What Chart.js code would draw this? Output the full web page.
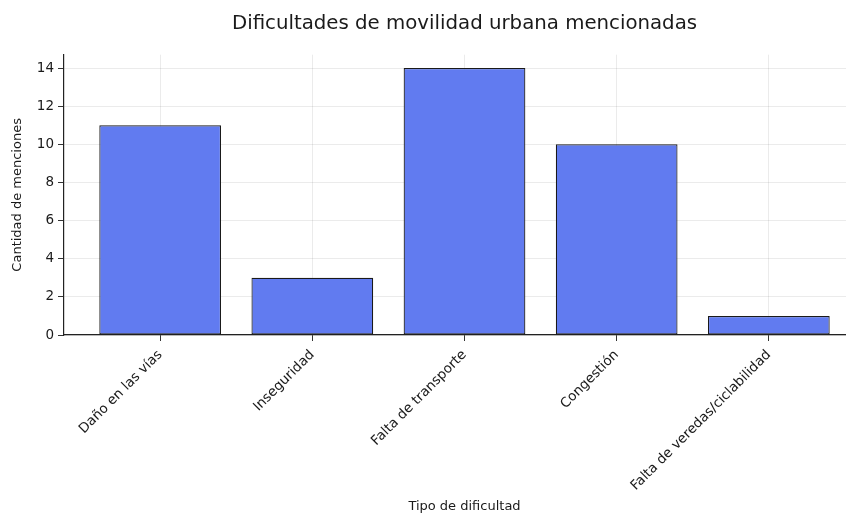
<!DOCTYPE html>
<html>
<head>
<meta charset="utf-8">
<script src="https://cdn.jsdelivr.net/npm/chart.js@4"></script>
<style>
    html, body { margin: 0; padding: 0; background: #ffffff; overflow: hidden; }
    #wrap { width: 866px; height: 516px; }
</style>
</head>
<body>
<div id="wrap"><canvas id="barChart" width="866" height="516"></canvas></div>
<script>
const categories = ['Daño en las vías', 'Inseguridad', 'Falta de transporte', 'Congestión', 'Falta de veredas/ciclabilidad'];
const mentions = [11, 3, 14, 10, 1];
const yTicks = [0, 2, 4, 6, 8, 10, 12, 14];

document.addEventListener('DOMContentLoaded', function () {
    const ctx = document.getElementById('barChart').getContext('2d');
    const font = 'DejaVu Sans';

    let chart = new Chart(ctx, {
        type: 'bar',
        data: {
            datasets: [{
                data: mentions.map((v, i) => ({ x: i, y: v })),
                backgroundColor: '#617bf0',
                borderColor: '#1a1a1a',
                borderWidth: 1.2,
                borderSkipped: false,
                barPercentage: 1,
                categoryPercentage: 0.8
            }]
        },
        options: {
            responsive: false,
            animation: false,
            devicePixelRatio: 1,
            layout: { padding: { left: 0, right: 1, top: 0, bottom: 0 } },
            plugins: {
                legend: { display: false },
                tooltip: { enabled: false },
                title: {
                    display: true,
                    text: 'Dificultades de movilidad urbana mencionadas',
                    fullSize: false,
                    color: '#1a1a1a',
                    font: { family: font, size: 19.75, weight: 'normal' },
                    padding: { top: 12, bottom: 19 }
                }
            },
            scales: {
                x: {
                    type: 'linear',
                    offset: false,
                    min: -0.632,
                    max: 4.632,
                    afterFit: function (scale) { scale.height = 181; },
                    afterBuildTicks: function (scale) {
                        scale.ticks = categories.map((c, i) => ({ value: i }));
                    },
                    ticks: {
                        color: '#1a1a1a',
                        font: { family: font, size: 13.5 },
                        minRotation: 45,
                        maxRotation: 45,
                        padding: 6,
                        autoSkip: false,
                        callback: function (value) { return categories[value]; }
                    },
                    grid: {
                        offset: false,
                        color: 'rgba(0,0,0,0.08)',
                        tickColor: '#333333',
                        tickLength: 6
                    },
                    border: { display: true, color: '#222222', width: 1.2 },
                    title: {
                        display: true,
                        text: 'Tipo de dificultad',
                        color: '#1a1a1a',
                        font: { family: font, size: 13 },
                        padding: { top: 4, bottom: 2 }
                    }
                },
                y: {
                    min: 0,
                    max: 14.7,
                    afterFit: function (scale) { scale.width = 64; },
                    afterBuildTicks: function (scale) {
                        scale.ticks = yTicks.map(v => ({ value: v }));
                    },
                    ticks: {
                        color: '#1a1a1a',
                        font: { family: font, size: 13.5 },
                        padding: 4
                    },
                    grid: {
                        color: 'rgba(0,0,0,0.08)',
                        tickColor: '#333333',
                        tickLength: 6
                    },
                    border: { display: true, color: '#222222', width: 1.2 },
                    title: {
                        display: true,
                        text: 'Cantidad de menciones',
                        color: '#1a1a1a',
                        font: { family: font, size: 13 },
                        padding: { top: 10, bottom: 4 }
                    }
                }
            }
        }
    });
});
</script>
</body>
</html>
